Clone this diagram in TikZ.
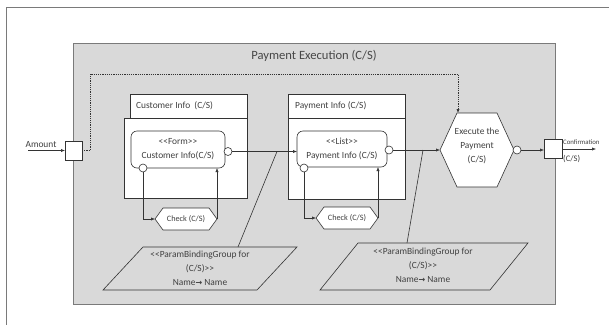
\documentclass[tikz,border=0pt]{standalone}
\usepackage{fontspec}
\setmainfont{Carlito}
\newfontfamily\dvfont{DejaVu Sans}
\usetikzlibrary{arrows.meta,calc,fit}
\definecolor{ln}{HTML}{333333}
\definecolor{txt}{HTML}{404040}
\definecolor{bg}{HTML}{D9D9D9}
\definecolor{frm}{HTML}{7A7A7A}
\newcommand{\bigarr}{{\dvfont\bfseries\fontsize{8}{9}\selectfont →}}
\tikzset{
  box/.style={draw=ln, fill=white, inner sep=0pt, outer sep=0pt, line width=0.6pt},
  rbox/.style={draw=ln, fill=white, inner sep=0pt, outer sep=0pt, rounded corners=6pt, line width=0.6pt},
  pinbox/.style={draw=ln, fill=white, inner sep=0pt, outer sep=0pt, line width=0.6pt},
  port/.style={circle, draw=ln, fill=white, minimum size=8pt, inner sep=0pt, outer sep=0pt, line width=0.6pt},
  shapebox/.style={inner sep=0pt, outer sep=0pt},
  conn/.style={draw=ln, line width=0.6pt},
  arr/.style={conn, -{Latex[length=4pt,width=3.2pt]}},
  dotline/.style={draw=ln, line width=0.7pt, dash pattern=on 1.2pt off 1pt, -{Latex[length=4pt,width=3.2pt]}},
  lbl/.style={text=txt, inner sep=0pt},
}
\begin{document}
\begin{tikzpicture}[x=1pt,y=-1pt, every node/.append style={font=\fontsize{9.4}{14}\selectfont}]
\useasboundingbox (0,0) rectangle (609,324);
\fill[white] (0,0) rectangle (609,324);
\draw[frm, line width=0.8pt] (6,340) -- (6,7) -- (620,7);
% main activity
\node[fit={(73,43)(555,304)}, draw=frm, fill=bg, inner sep=0pt, line width=0.8pt] (pe) {};
\node[lbl, font=\fontsize{12.6}{14}\selectfont, text=ln!90] (title) at (314,56) {Payment Execution (C/S)};
% Amount pin
\node[pinbox, fit={(65,141)(82,160)}] (amtpin) {};
\coordinate (amtin) at (28,150.5);
\node[lbl, anchor=south] (amtl) at (41,148) {Amount};
\draw[arr] (amtin) -- (amtpin.west |- amtin);
% Customer Info frame
\node[box, fit={(130,94)(247,118)}] (cih) {};
\node[box, fit={(124,118)(247,198)}] (cib) {};
\node[lbl, anchor=west] (cihl) at (136,106) {Customer Info\ \ (C/S)};
\node[rbox, fit={(131,131)(225,168)}] (cir) {};
\node[lbl, align=center] (cirt) at (178,149.5) {<{}<Form>{}>\\Customer Info(C/S)};
\node[port] (cio) at (228,151.5) {};
\node[port] (cip) at (143,168) {};
\node[shapebox, minimum width=62pt, minimum height=22pt] (chk1) at (186,219) {};
\draw[ln, fill=white, line width=0.6pt] (chk1.west) -- ([xshift=8pt]chk1.north west) -- ([xshift=-8pt]chk1.north east) -- (chk1.east) -- ([xshift=-8pt]chk1.south east) -- ([xshift=8pt]chk1.south west) -- cycle;
\node[lbl, font=\fontsize{8.2}{9}\selectfont] (chk1t) at (chk1) {Check (C/S)};
\draw[arr] (cip.south) |- (chk1.west);
\draw[arr] (chk1.east) -- (chk1.east |- cir.south);
% Payment Info frame
\node[box, fit={(288,94)(405,118)}] (pih) {};
\node[box, fit={(288,118)(405,199)}] (pib) {};
\node[lbl, anchor=west] (pihl) at (295,106) {Payment Info (C/S)};
\node[rbox, fit={(297,131)(387,167)}] (pir) {};
\node[lbl, align=center] (pirt) at (342,149) {<{}<List>{}>\\Payment Info (C/S)};
\node[port] (pio) at (389,150) {};
\node[port] (pip) at (304,168) {};
\node[shapebox, minimum width=62pt, minimum height=22pt] (chk2) at (347,218) {};
\draw[ln, fill=white, line width=0.6pt] (chk2.west) -- ([xshift=8pt]chk2.north west) -- ([xshift=-8pt]chk2.north east) -- (chk2.east) -- ([xshift=-8pt]chk2.south east) -- ([xshift=8pt]chk2.south west) -- cycle;
\node[lbl, font=\fontsize{8.2}{9}\selectfont] (chk2t) at (chk2) {Check (C/S)};
\draw[arr] (pip.south) |- (chk2.west);
\draw[arr] (chk2.east) -- (chk2.east |- pir.south);
% Execute the Payment
\node[shapebox, minimum width=74pt, minimum height=74pt] (exe) at (477,150) {};
\draw[ln, fill=white, line width=0.6pt] (exe.west) -- ([xshift=17pt]exe.north west) -- ([xshift=-17pt]exe.north east) -- (exe.east) -- ([xshift=-17pt]exe.south east) -- ([xshift=17pt]exe.south west) -- cycle;
\node[lbl, align=center] (exet) at (477,146) {Execute the\\Payment\\(C/S)};
\node[port] (eo) at (517,150) {};
% Confirmation pin
\node[pinbox, fit={(544,139.5)(562,158.5)}] (cpin) {};
\coordinate (confout) at (596,149);
\node[lbl, anchor=south west, font=\fontsize{6.8}{8}\selectfont] (confl) at (563,145) {Confirmation};
\node[lbl, anchor=north west, font=\fontsize{8.5}{9}\selectfont] (confcs) at (563,155) {(C/S)};
% flows
\draw[arr] (cio.east) -- (cio.east -| pir.west);
\draw[arr] (pio.east) -- (exe.west);
\draw[arr] (eo.east) -- (eo.east -| cpin.west);
\draw[arr] (cpin.east) -- (confout);
% dotted control flow
\coordinate (dash1) at (90,74);
\coordinate (exetop) at ([xshift=18pt]exe.north west);
\draw[dotline] (amtpin.east) -| (dash1) -| (exetop);
% param binding groups
\draw[conn] (143,247) -- (297,247) -- (257,290) -- (103,290) -- cycle;
\node[lbl, align=center] (pb1) at (200,268) {<{}<ParamBindingGroup for\\(C/S)>{}>\\Name\bigarr\ Name};
\draw[conn] (358,243) -- (528,243) -- (490,290) -- (320,290) -- cycle;
\node[lbl, align=center] (pb2) at (423,265.5) {<{}<ParamBindingGroup for\\(C/S)>{}>\\Name\bigarr\ Name};
\coordinate (pb1top) at (238,247);
\coordinate (j1) at (277,151.5);
\coordinate (pb2top) at (407,243);
\coordinate (j2) at (423,150);
\draw[conn] (pb1top) -- (j1);
\draw[conn] (pb2top) -- (j2);
\end{tikzpicture}
\end{document}
